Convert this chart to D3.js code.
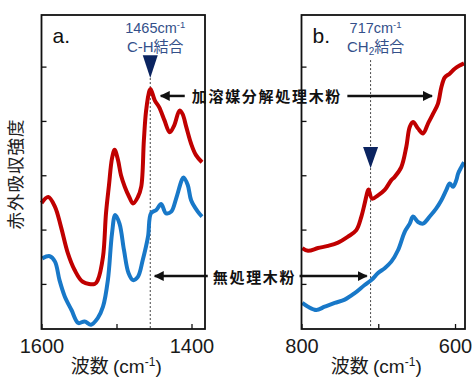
<!DOCTYPE html>
<html lang="ja">
<head>
<meta charset="UTF-8">
<title>赤外吸収スペクトル</title>
<style>
  body { margin: 0; background: #fff; }
  svg { display: block; font-family: "Liberation Sans", Arial, sans-serif; }
  .jp { font-family: "Noto Sans CJK JP", sans-serif; }
</style>
<script src="https://cdn.jsdelivr.net/npm/d3@7/dist/d3.min.js"></script>
</head>
<body>
<div id="chart"></div>
<script>
// [wavenumber (cm-1), absorbance (a.u.)]
const redA = [
  [1600, 2.49], [1591, 2.60], [1582, 2.42], [1574, 2.05], [1565, 1.57], [1556, 1.26],
  [1545, 1.04], [1529, 1.00], [1525, 1.07], [1518, 1.50], [1514, 2.30], [1510, 2.82],
  [1506, 3.31], [1502.5, 3.47], [1498, 3.28], [1494, 3.00], [1489, 2.79], [1483, 2.60],
  [1478, 2.48], [1471.5, 2.60], [1467, 2.79], [1463.5, 3.64], [1460.5, 4.19], [1456, 4.56],
  [1454.6, 4.59], [1449, 4.38], [1443, 4.25], [1436, 4.01], [1429, 3.79], [1423, 3.92],
  [1416, 4.19], [1412, 4.13], [1407, 3.89], [1400.5, 3.58], [1394, 3.37], [1386, 3.24]
];
const blueA = [
  [1599, 1.47], [1589, 1.51], [1582, 1.41], [1576, 1.07], [1569, 0.77], [1560, 0.52],
  [1551, 0.28], [1542.5, 0.31], [1534, 0.25], [1525, 0.37], [1518, 0.58], [1511.5, 1.07],
  [1506, 1.93], [1501.7, 2.27], [1496, 2.11], [1490, 1.62], [1484, 1.20], [1478, 1.07],
  [1471.5, 1.13], [1465, 1.44], [1458, 1.87], [1454, 2.30], [1447, 2.36], [1440.5, 2.47],
  [1434, 2.30], [1427, 2.33], [1420.5, 2.57], [1413, 2.91], [1410.7, 2.96], [1405, 2.82],
  [1400.5, 2.54], [1391.6, 2.33], [1386, 2.24]
];
const redB = [
  [799, 1.66], [791.5, 1.61], [778.5, 1.66], [765.5, 1.70], [752.4, 1.76], [739.4, 1.87],
  [728.6, 1.99], [722, 2.24], [717.7, 2.48], [714, 2.70], [712.7, 2.74], [708, 2.57],
  [700.3, 2.63], [691.6, 2.73], [683, 2.91], [678.6, 2.97], [670, 3.15], [663.5, 3.52],
  [659, 3.89], [654.7, 3.98], [648.2, 3.86], [641.7, 3.77], [635.2, 3.95], [628.7, 4.13],
  [622.2, 4.32], [617.8, 4.62], [613.4, 4.80], [607, 4.87], [600.4, 4.96], [594, 5.02],
  [588.3, 5.06]
];
const blueB = [
  [799, 0.65], [791.5, 0.58], [780.7, 0.52], [769.8, 0.58], [756.7, 0.65], [743.7, 0.71],
  [730.7, 0.83], [717.7, 0.98], [709, 1.07], [700.3, 1.20], [691.6, 1.29], [683, 1.41],
  [674.3, 1.62], [665.5, 1.96], [659, 2.11], [654.7, 2.24], [648.2, 2.14], [641.7, 2.11],
  [633, 2.24], [624.4, 2.39], [617.8, 2.54], [611.3, 2.73], [607, 2.85], [602.6, 2.79],
  [598.3, 2.91], [596, 3.03], [591.8, 3.15], [588.3, 3.24]
];

const yTicks = [1, 2, 3, 4, 5];
const panels = [
  { key: "a.", domain: [1600, 1382], ticks: [1600, 1500, 1400], labels: ["1600", "1400"], red: redA, blue: blueA,
    peak: { wn: 1455, tip: 4.79, top: 5.21, line: 4.79, text: "1465", bond: ["C-H", null, "結合"] } },
  { key: "b.", domain: [800, 587], ticks: [800, 700, 600], labels: ["800", "600"], red: redB, blue: blueB,
    peak: { wn: 710, tip: 3.13, top: 3.52, line: 5.12, text: "717", bond: ["CH", "2", "結合"] } }
];
// arrow annotations: tips given as [panel a wavenumber, panel b wavenumber], level in absorbance
const arrowRed = { text: "加溶媒分解処理木粉", level: 4.46, tips: [1441, 630], lead: 24, gap: 7 };
const arrowBlue = { text: "無処理木粉", level: 1.145, tips: [1449, 715], lead: 53, gap: 5 };

const width = 472, height = 378;
const plotTop = 15, plotBottom = 329, pw = 163.5;
const lefts = [41.5, 301.5];
const RED = "#c00000", BLUE = "#1878c8", NAVY = "#0b2460", LABEL = "#34508a";

const svg = d3.select("#chart").append("svg")
    .attr("width", width).attr("height", height);

const y = d3.scaleLinear().domain([0.17, 5.95]).range([plotBottom, plotTop]);
const xs = panels.map((p, i) => d3.scaleLinear().domain(p.domain).range([lefts[i], lefts[i] + pw]));

panels.forEach((p, i) => {
  const x = xs[i];
  const g = svg.append("g");

  // dotted marker line
  g.append("line")
      .attr("x1", x(p.peak.wn)).attr("x2", x(p.peak.wn))
      .attr("y1", y(p.peak.line)).attr("y2", plotBottom)
      .attr("stroke", "#444").attr("stroke-width", 1).attr("stroke-dasharray", "2,2");

  const line = d3.line().x(d => x(d[0])).y(d => y(d[1])).curve(d3.curveCatmullRom);
  g.append("path").datum(p.blue).attr("d", line)
      .attr("fill", "none").attr("stroke", BLUE).attr("stroke-width", 4).attr("stroke-linejoin", "round");
  g.append("path").datum(p.red).attr("d", line)
      .attr("fill", "none").attr("stroke", RED).attr("stroke-width", 4).attr("stroke-linejoin", "round");

  // axes (ticks inside)
  const xAxis = d3.axisBottom(x).tickValues(p.ticks).tickSizeInner(-5).tickSizeOuter(0)
      .tickFormat(d => p.labels.includes(String(d)) ? String(d) : "");
  const ax = g.append("g").attr("transform", `translate(0,${plotBottom})`).call(xAxis);
  ax.select(".domain").remove();
  ax.selectAll(".tick line").attr("stroke", "#111").attr("stroke-width", 1.3);
  ax.selectAll(".tick text").attr("y", 10).attr("font-size", 20)
      .attr("font-family", "Liberation Sans, Arial, sans-serif").attr("fill", "#1a1a1a");

  const yAxis = d3.axisLeft(y).tickValues(yTicks).tickSizeInner(-5).tickSizeOuter(0).tickFormat("");
  const ay = g.append("g").attr("transform", `translate(${lefts[i]},0)`).call(yAxis);
  ay.select(".domain").remove();
  ay.selectAll(".tick line").attr("stroke", "#111").attr("stroke-width", 1.3);

  g.append("rect")
      .attr("x", lefts[i]).attr("y", plotTop).attr("width", pw).attr("height", plotBottom - plotTop)
      .attr("fill", "none").attr("stroke", "#111").attr("stroke-width", 1.8);

  // panel letter
  g.append("text").attr("x", lefts[i] + 11).attr("y", 43)
      .attr("font-size", 21).attr("fill", "#111").text(p.key);

  // peak marker
  const px = x(p.peak.wn);
  g.append("path")
      .attr("d", `M${px - 7.5},${y(p.peak.top)}L${px + 7.5},${y(p.peak.top)}L${px},${y(p.peak.tip)}Z`)
      .attr("fill", NAVY);

  const t1 = g.append("text").attr("x", px + 5).attr("y", 33)
      .attr("text-anchor", "middle").attr("font-size", 14.5).attr("fill", LABEL);
  t1.append("tspan").text(p.peak.text + "cm");
  t1.append("tspan").attr("font-size", 9.5).attr("dy", -5).text("-1");

  const t2 = g.append("text").attr("x", px + 5).attr("y", 52)
      .attr("text-anchor", "middle").attr("font-size", 15).attr("fill", LABEL);
  t2.append("tspan").text(p.peak.bond[0]);
  if (p.peak.bond[1]) {
    t2.append("tspan").attr("font-size", 10).attr("dy", 3).text(p.peak.bond[1]);
    t2.append("tspan").attr("dy", -3).attr("class", "jp").text(p.peak.bond[2]);
  } else {
    t2.append("tspan").attr("class", "jp").text(p.peak.bond[2]);
  }

  // x axis title
  const xt = g.append("text").attr("x", lefts[i] + pw / 2 - 7).attr("y", 373)
      .attr("text-anchor", "middle").attr("font-size", 19).attr("fill", "#1a1a1a");
  xt.append("tspan").attr("class", "jp").text("波数 ");
  xt.append("tspan").text("(cm");
  xt.append("tspan").attr("font-size", 12).attr("dy", -7).text("-1");
  xt.append("tspan").attr("dy", 7).text(")");
});

// y axis title
svg.append("text")
    .attr("class", "jp")
    .attr("transform", `translate(22,${(plotTop + plotBottom) / 2 + 2}) rotate(-90)`)
    .attr("text-anchor", "middle").attr("font-size", 17.5).attr("letter-spacing", 1)
    .attr("fill", "#222").text("赤外吸収強度");

// arrow head
svg.append("defs").append("marker")
    .attr("id", "head").attr("viewBox", "0 0 10 10").attr("refX", 9).attr("refY", 5)
    .attr("markerWidth", 4).attr("markerHeight", 4).attr("orient", "auto-start-reverse")
  .append("path").attr("d", "M0,0L10,5L0,10Z").attr("fill", "#111");

[arrowRed, arrowBlue].forEach(a => {
  const yy = y(a.level);
  const tipL = xs[0](a.tips[0]);
  const tipR = xs[1](a.tips[1]);
  const tailL = tipL + a.lead;
  const txt = svg.append("text")
      .attr("class", "jp")
      .attr("x", tailL + a.gap).attr("y", yy)
      .attr("dominant-baseline", "central")
      .attr("font-size", 15).attr("font-weight", "bold").attr("letter-spacing", 1.7)
      .attr("fill", "#111").text(a.text);
  const tEnd = tailL + a.gap + txt.node().getComputedTextLength();
  svg.append("line").attr("x1", tailL).attr("x2", tipL).attr("y1", yy).attr("y2", yy)
      .attr("stroke", "#111").attr("stroke-width", 2.5).attr("marker-end", "url(#head)");
  svg.append("line").attr("x1", tEnd + a.gap - 1.7).attr("x2", tipR).attr("y1", yy).attr("y2", yy)
      .attr("stroke", "#111").attr("stroke-width", 2.5).attr("marker-end", "url(#head)");
});
</script>
</body>
</html>
